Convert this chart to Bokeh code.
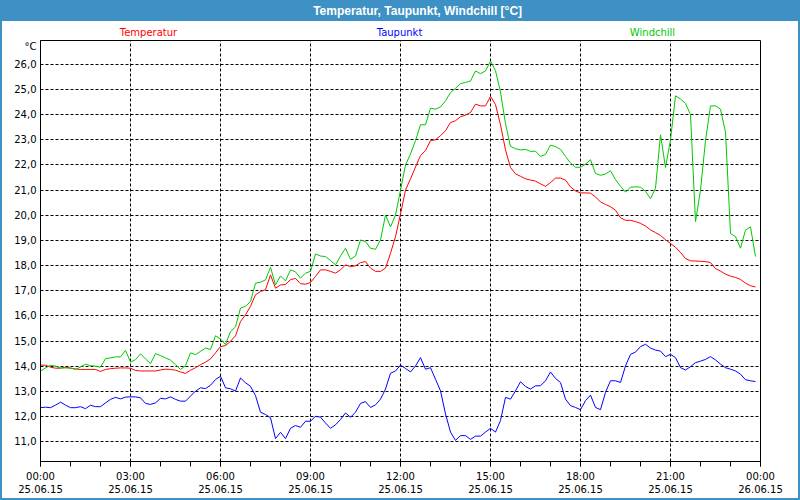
from bokeh.plotting import figure
from bokeh.layouts import column
from bokeh.models import FixedTicker, Range1d
from bokeh.core.properties import value
from bokeh.embed import file_html
from bokeh.resources import INLINE

# ---- data (10-minute readings, 25.06.15 00:00 .. 23:50) ----
temperatur = [
    14.04, 14.04, 13.96, 13.92, 13.92, 13.96, 13.92, 13.89, 13.87, 13.87, 13.87, 13.87,
    13.79, 13.87, 13.90, 13.92, 13.93, 13.93, 13.92, 13.83, 13.81, 13.81, 13.81, 13.81,
    13.85, 13.88, 13.87, 13.84, 13.77, 13.71, 13.84, 13.94, 14.06, 14.16, 14.29, 14.53,
    14.78, 14.82, 14.99, 15.21, 15.78, 16.04, 16.38, 16.84, 16.97, 17.04, 17.63, 17.10,
    17.23, 17.25, 17.44, 17.49, 17.28, 17.26, 17.33, 17.57, 17.83, 17.83, 17.77, 17.70,
    17.83, 18.03, 17.96, 17.99, 18.12, 18.16, 17.90, 17.77, 17.77, 17.90, 18.49, 19.15,
    20.05, 21.00, 21.45, 21.92, 22.38, 22.57, 22.97, 23.00, 23.17, 23.36, 23.69, 23.76,
    23.92, 23.98, 24.09, 24.42, 24.35, 24.35, 24.73, 24.40, 23.60, 22.60, 21.90, 21.65,
    21.55, 21.45, 21.40, 21.36, 21.25, 21.15, 21.30, 21.48, 21.48, 21.40, 21.13, 20.97,
    20.89, 20.89, 20.88, 20.73, 20.53, 20.43, 20.34, 20.20, 19.90, 19.80, 19.80, 19.75,
    19.68, 19.57, 19.42, 19.31, 19.20, 19.03, 18.88, 18.73, 18.52, 18.28, 18.19, 18.18,
    18.17, 18.16, 18.12, 17.88, 17.78, 17.66, 17.58, 17.53, 17.45, 17.30, 17.20, 17.15,
]
taupunkt = [
    12.35, 12.37, 12.35, 12.45, 12.57, 12.45, 12.35, 12.35, 12.39, 12.31, 12.45, 12.39,
    12.39, 12.54, 12.68, 12.76, 12.70, 12.77, 12.78, 12.78, 12.74, 12.52, 12.48, 12.54,
    12.72, 12.70, 12.78, 12.68, 12.61, 12.61, 12.81, 13.01, 13.14, 13.11, 13.24, 13.47,
    13.60, 13.14, 13.10, 13.01, 13.53, 13.34, 13.20, 12.83, 12.17, 12.08, 11.95, 11.12,
    11.37, 11.12, 11.53, 11.64, 11.57, 11.81, 11.81, 12.01, 11.97, 11.74, 11.53, 11.67,
    11.88, 12.14, 11.97, 12.17, 12.52, 12.59, 12.36, 12.46, 12.69, 13.09, 13.72, 13.81,
    14.04, 13.91, 13.77, 14.01, 14.34, 13.88, 13.94, 13.48, 13.02, 12.10, 11.38, 11.05,
    11.24, 11.24, 11.09, 11.22, 11.22, 11.38, 11.53, 11.38, 11.84, 12.76, 12.69, 13.02,
    13.38, 13.19, 13.09, 13.22, 13.22, 13.42, 13.77, 13.51, 13.35, 12.69, 12.43, 12.36,
    12.27, 12.63, 12.85, 12.36, 12.27, 12.96, 13.42, 13.42, 13.35, 14.01, 14.47, 14.56,
    14.78, 14.87, 14.72, 14.64, 14.60, 14.38, 14.47, 14.34, 13.94, 13.85, 13.98, 14.14,
    14.20, 14.27, 14.38, 14.25, 14.08, 13.94, 13.88, 13.81, 13.68, 13.46, 13.42, 13.39,
]
windchill = [
    13.80, 13.93, 14.04, 14.00, 13.93, 13.93, 13.93, 13.87, 13.97, 14.08, 14.02, 14.00,
    13.96, 14.30, 14.33, 14.37, 14.37, 14.63, 14.16, 14.26, 14.49, 14.29, 14.10, 14.50,
    14.42, 14.33, 14.24, 14.06, 13.87, 14.02, 14.53, 14.46, 14.59, 14.72, 14.66, 15.21,
    15.08, 14.86, 15.38, 15.56, 16.31, 16.38, 16.57, 17.30, 17.34, 17.43, 17.93, 17.23,
    17.59, 17.39, 17.83, 17.75, 17.50, 17.70, 17.77, 18.46, 18.38, 18.36, 18.20, 18.03,
    18.38, 18.69, 18.25, 18.38, 19.02, 18.95, 18.69, 18.65, 19.02, 20.01, 19.54, 20.01,
    21.00, 22.00, 22.44, 22.97, 23.60, 23.60, 24.26, 24.22, 24.31, 24.55, 24.88, 25.05,
    25.24, 25.28, 25.34, 25.74, 25.63, 25.74, 26.13, 25.75, 24.90, 23.64, 22.74, 22.65,
    22.60, 22.62, 22.54, 22.55, 22.34, 22.42, 22.79, 22.73, 22.62, 22.34, 22.08, 21.91,
    21.91, 22.03, 22.21, 21.66, 21.59, 21.64, 21.77, 21.42, 21.15, 20.92, 21.12, 21.13,
    21.12, 20.95, 20.66, 21.08, 23.20, 21.90, 23.00, 24.75, 24.62, 24.45, 24.00, 19.75,
    21.00, 22.97, 24.35, 24.35, 24.22, 23.30, 19.28, 19.15, 18.69, 19.41, 19.54, 18.36,
]
minutes_per_reading = 10
hours = [i * minutes_per_reading / 60 for i in range(len(temperatur))]

x_tick_hours = [0, 3, 6, 9, 12, 15, 18, 21, 24]
x_tick_times = ["00:00", "03:00", "06:00", "09:00", "12:00", "15:00", "18:00", "21:00", "00:00"]
x_tick_dates = ["25.06.15"] * 8 + ["26.06.15"]
y_ticks = [11, 12, 13, 14, 15, 16, 17, 18, 19, 20, 21, 22, 23, 24, 25, 26]
y_tick_labels = ["11,0", "12,0", "13,0", "14,0", "15,0", "16,0", "17,0", "18,0",
                 "19,0", "20,0", "21,0", "22,0", "23,0", "24,0", "25,0", "26,0"]
unit_label = "°C"
unit_label_value = 26.73

title_text = "Temperatur, Taupunkt, Windchill [°C]"
series_names = ["Temperatur", "Taupunkt", "Windchill"]
series_colors = ["#ff0000", "#0000ff", "#00c800"]

FONT = "DejaVu Sans"
BAR = "#3d91c4"

# Plots in a column get their frames aligned with the chart's frame (page x 40..760),
# so the header strips use page-like x coordinates over that span.
FRAME_X = (40, 760)

# ---------------- window title bar ----------------
bar = figure(width=800, height=21, output_backend="svg", toolbar_location=None,
             x_range=Range1d(*FRAME_X), y_range=Range1d(21, 0),
             x_axis_type=None, y_axis_type=None,
             min_border_left=0, min_border_right=0, min_border_top=0, min_border_bottom=0,
             background_fill_color=BAR, border_fill_color=BAR)
bar.outline_line_color = None
bar.text(x=[417], y=[10.5], text=[title_text], text_align="center", text_baseline="middle",
         text_color="white", text_font=value("Liberation Sans"), text_font_style="bold",
         text_font_size="12px")

# ---------------- series names row ----------------
names = figure(width=796, height=17, output_backend="svg", toolbar_location=None,
               x_range=Range1d(*FRAME_X), y_range=Range1d(17, 0),
               x_axis_type=None, y_axis_type=None,
               min_border_left=0, min_border_right=0, min_border_top=0, min_border_bottom=0,
               background_fill_color="white", border_fill_color="white")
names.margin = (0, 2, 0, 2)
names.styles = {"background-color": "white"}
names.outline_line_color = None
names.text(x=[148, 399, 652], y=[10.5, 10.5, 10.5], text=series_names,
           text_color=series_colors, text_align="center", text_baseline="middle",
           text_font=value(FONT), text_font_size="10px")

# ---------------- main chart ----------------
W, H = 796, 460
BL, BR, BT, BB = 38, 38, 2, 36

p = figure(width=W, height=H, output_backend="svg", toolbar_location=None,
           x_range=Range1d(0, 24), y_range=Range1d(10.21, 26.95),
           min_border_left=BL, min_border_right=BR, min_border_top=BT, min_border_bottom=BB,
           background_fill_color="white", border_fill_color="white")
p.margin = (0, 2, 2, 2)
p.styles = {"background-color": "white"}

p.outline_line_color = "black"
p.outline_line_alpha = 1
p.outline_line_width = 1

# x axis
xa = p.xaxis[0]
xa.ticker = FixedTicker(ticks=x_tick_hours, minor_ticks=list(range(0, 25)))
xa.major_label_overrides = {h: f"{t}\n{d}" for h, t, d in zip(x_tick_hours, x_tick_times, x_tick_dates)}
xa.major_tick_in = 0
xa.major_tick_out = 5
xa.minor_tick_in = 0
xa.minor_tick_out = 5
xa.major_tick_line_color = "black"
xa.minor_tick_line_color = "black"
xa.axis_line_color = "black"
xa.major_label_text_font = FONT
xa.major_label_text_font_size = "10px"
xa.major_label_text_color = "black"
xa.major_label_text_line_height = 1.24
xa.major_label_standoff = 4

# y axis (with the unit shown as the top label)
ya = p.yaxis[0]
ya.ticker = FixedTicker(ticks=y_ticks + [unit_label_value])
overrides = {v: s for v, s in zip(y_ticks, y_tick_labels)}
overrides[unit_label_value] = unit_label
ya.major_label_overrides = overrides
ya.major_tick_in = 0
ya.major_tick_out = 0
ya.minor_tick_line_color = None
ya.axis_line_color = "black"
ya.major_label_text_font = FONT
ya.major_label_text_font_size = "10px"
ya.major_label_text_color = "black"
ya.major_label_standoff = 4

# grids
p.xgrid.ticker = FixedTicker(ticks=x_tick_hours[1:-1])
p.ygrid.ticker = FixedTicker(ticks=y_ticks)
for g in (p.xgrid[0], p.ygrid[0]):
    g.grid_line_color = "black"
    g.grid_line_alpha = 1
    g.grid_line_dash = "3 2"
    g.grid_line_width = 1

# series
for ys, c in zip([temperatur, taupunkt, windchill], series_colors):
    p.line(hours, ys, line_color=c, line_width=1)

layout = column(bar, names, p, styles={"background-color": BAR})

open("out.html", "w").write(file_html(layout, INLINE))
